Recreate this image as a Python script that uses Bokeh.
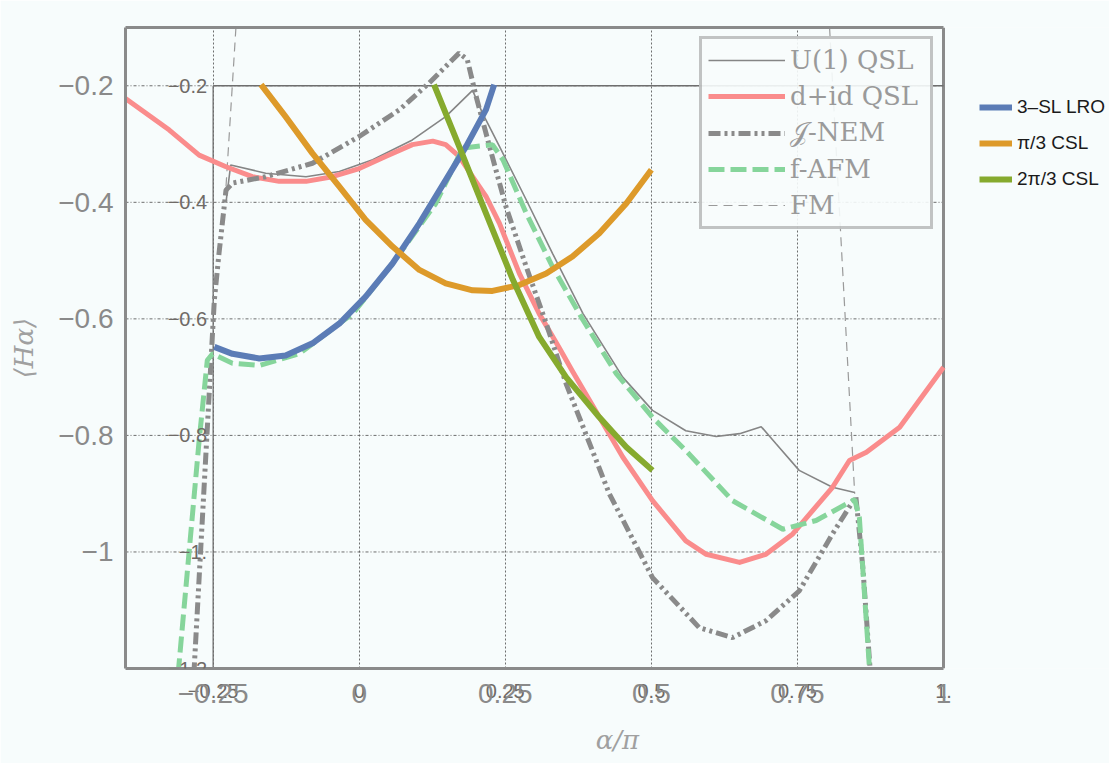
from bokeh.plotting import figure
from bokeh.models import (FixedTicker, Legend, LegendItem, LabelSet, ColumnDataSource, Range1d,
                          LinearAxis)
from bokeh.embed import file_html
from bokeh.resources import INLINE
from bokeh.core.properties import value

nan = float("nan")

# ---------------- data (alpha/pi, <H_alpha>) ----------------
u1_x = [-0.228, -0.220, -0.160, -0.091, -0.034, 0.023, 0.091, 0.148, 0.194, 0.211, 0.240, 0.286,
        0.331, 0.383, 0.451, 0.502, 0.559, 0.611, 0.651, 0.688, 0.713, 0.753, 0.810, 0.848]
u1_y = [-0.400, -0.336, -0.350, -0.356, -0.347, -0.327, -0.293, -0.253, -0.208, -0.247, -0.304, -0.396,
        -0.488, -0.591, -0.700, -0.757, -0.792, -0.802, -0.797, -0.785, -0.814, -0.860, -0.889, -0.898]

did_x = [-0.400, -0.325, -0.274, -0.228, -0.183, -0.137, -0.091, -0.046, 0.000, 0.046, 0.091, 0.126,
         0.148, 0.171, 0.194, 0.217, 0.240, 0.274, 0.308, 0.343, 0.365, 0.451, 0.502, 0.559, 0.594,
         0.651, 0.696, 0.742, 0.810, 0.839, 0.868, 0.925, 1.000]
did_y = [-0.222, -0.276, -0.319, -0.339, -0.356, -0.364, -0.364, -0.356, -0.342, -0.321, -0.301, -0.295,
         -0.301, -0.321, -0.356, -0.390, -0.436, -0.522, -0.591, -0.651, -0.690, -0.837, -0.912, -0.981, -1.004,
         -1.018, -1.004, -0.969, -0.889, -0.843, -0.829, -0.786, -0.683]

nem_x = [-0.283, -0.248, -0.240, -0.228, -0.217, -0.160, -0.080, 0.000, 0.069, 0.120, 0.171, 0.185,
         0.200, 0.223, 0.251, 0.286, 0.320, 0.354, 0.428, 0.502, 0.582, 0.639, 0.696, 0.753, 0.810,
         0.850, 0.862, 0.875]
nem_y = [-1.210, -0.568, -0.488, -0.379, -0.367, -0.356, -0.333, -0.287, -0.241, -0.195, -0.144, -0.155,
         -0.218, -0.304, -0.407, -0.511, -0.608, -0.711, -0.900, -1.044, -1.130, -1.147, -1.118, -1.067,
         -0.969, -0.905, -1.027, -1.210]

afm_x = [-0.310, -0.274, -0.260, -0.251, -0.217, -0.171, -0.103, -0.011, 0.057, 0.131, 0.177, 0.228,
         0.246, 0.286, 0.331, 0.383, 0.440, 0.502, 0.559, 0.639, 0.725, 0.782, 0.848, 0.856, 0.874]
afm_y = [-1.210, -0.809, -0.671, -0.660, -0.676, -0.680, -0.660, -0.591, -0.505, -0.402, -0.307, -0.301,
         -0.327, -0.419, -0.511, -0.602, -0.694, -0.769, -0.826, -0.912, -0.961, -0.946, -0.910, -0.941, -1.210]

fm_x = [-0.211, -0.228, nan, 0.805, 0.848]
fm_y = [-0.100, -0.373, nan, -0.100, -0.900]

lro_x = [-0.248, -0.217, -0.171, -0.126, -0.080, -0.034, 0.011, 0.057, 0.103, 0.148, 0.183, 0.217, 0.231]
lro_y = [-0.648, -0.660, -0.668, -0.663, -0.642, -0.608, -0.562, -0.505, -0.436, -0.362, -0.304, -0.241, -0.198]

csl1_x = [-0.168, -0.126, -0.080, -0.034, 0.011, 0.057, 0.103, 0.148, 0.194, 0.228, 0.274, 0.320,
          0.365, 0.411, 0.457, 0.500]
csl1_y = [-0.198, -0.253, -0.316, -0.373, -0.430, -0.476, -0.516, -0.539, -0.551, -0.552, -0.542, -0.522,
          -0.493, -0.453, -0.402, -0.344]

csl2_x = [0.128, 0.171, 0.217, 0.263, 0.308, 0.354, 0.411, 0.457, 0.502]
csl2_y = [-0.198, -0.304, -0.419, -0.533, -0.631, -0.700, -0.769, -0.820, -0.860]

outer_x_ticks = [-0.25, 0.0, 0.25, 0.5, 0.75, 1.0]
outer_x_labels = ["\u22120.25", "0", "0.25", "0.5", "0.75", "1"]
outer_y_ticks = [-1.0, -0.8, -0.6, -0.4, -0.2]
outer_y_labels = ["\u22121", "\u22120.8", "\u22120.6", "\u22120.4", "\u22120.2"]

inner_x_ticks = [-0.25, 0.0, 0.25, 0.5, 0.75, 1.0]
inner_x_labels = ["\u22120.25", "0", "0.25", "0.5", "0.75", "1."]
inner_y_ticks = [-0.2, -0.4, -0.6, -0.8, -1.0, -1.2]
inner_y_labels = ["\u22120.2", "\u22120.4", "\u22120.6", "\u22120.8", "\u22121.", "\u22121.2"]

inner_names = ["U(1) QSL", "d+id QSL", "\U0001D4A5-NEM", "f-AFM", "FM"]
outer_names = ["3\u2013SL LRO", "\u03c0/3 CSL", "2\u03c0/3 CSL"]

# plot window of the outer axes
x_lo, x_hi = -0.4, outer_x_ticks[-1]
y_lo, y_hi = -1.2, -0.1

# ---------------- figure ----------------
BG = "#f7fcfc"
GRAY = "#8a8a8a"
INNER_TXT = "#6f6a66"
FRAME_W = 818.0     # px width of the outer axes box
EXTRA_W = 166.0     # px of the page to the right of the box (legend area)
x_view_hi = x_hi + (x_hi - x_lo) * EXTRA_W / FRAME_W

p = figure(width=1109, height=763, x_range=Range1d(x_lo, x_view_hi), y_range=Range1d(y_lo, y_hi),
           output_backend="svg", toolbar_location=None,
           min_border_left=125, min_border_right=0, min_border_top=27, min_border_bottom=95,
           background_fill_color=BG, border_fill_color=BG)
p.outline_line_color = None

outer_x = p.xaxis[0]
outer_yax = p.yaxis[0]
for ax in (outer_x, outer_yax):
    ax.major_tick_line_color = None
    ax.minor_tick_line_color = None
    ax.major_label_text_font = "Liberation Sans"
    ax.major_label_text_font_size = "28px"
    ax.major_label_text_color = GRAY
    ax.axis_label_text_font = "DejaVu Serif"
    ax.axis_label_text_font_style = "italic"
    ax.axis_label_text_font_size = "26px"
    ax.axis_label_text_color = "#a0a0a0"

outer_x.axis_line_color = None
outer_x.bounds = (x_lo, x_hi)
outer_yax.axis_line_color = GRAY
outer_yax.axis_line_width = 3
outer_x.ticker = FixedTicker(ticks=outer_x_ticks)
outer_x.major_label_overrides = dict(zip(outer_x_ticks, outer_x_labels))
outer_yax.ticker = FixedTicker(ticks=outer_y_ticks)
outer_yax.major_label_overrides = dict(zip(outer_y_ticks, outer_y_labels))
outer_x.major_label_standoff = -23
outer_yax.major_label_standoff = 6
outer_x.axis_label = "\u03b1/\u03c0"
outer_yax.axis_label = "\u27e8H\u03b1\u27e9"
outer_x.axis_label_standoff = 19
outer_yax.axis_label_standoff = 16

# inner (small) x tick labels: an axis closest to the frame, carrying the bottom frame line
inner_xax = LinearAxis(ticker=FixedTicker(ticks=inner_x_ticks), bounds=(x_lo, x_hi),
                       major_label_overrides=dict(zip(inner_x_ticks, inner_x_labels)),
                       axis_line_color=GRAY, axis_line_width=3,
                       major_tick_line_color=None, minor_tick_line_color=None,
                       major_label_text_font="Liberation Sans", major_label_text_font_size="20px",
                       major_label_text_color=INNER_TXT, major_label_standoff=9)
p.below = [inner_xax] + list(p.below)

# top frame line
top_ax = LinearAxis(ticker=FixedTicker(ticks=[]), bounds=(x_lo, x_hi),
                    axis_line_color=GRAY, axis_line_width=3,
                    major_tick_line_color=None, minor_tick_line_color=None,
                    major_label_text_font_size="0px")
p.add_layout(top_ax, "above")

# grid
p.xgrid.ticker = FixedTicker(ticks=outer_x_ticks[:-1])
p.xgrid.grid_line_color = "#555555"
p.xgrid.grid_line_dash = "2 2"
p.xgrid.grid_line_width = 1
p.xgrid.grid_line_alpha = 0.85
p.ygrid.visible = False
n_y = len(outer_y_ticks)
p.segment(x0=[x_lo] * n_y, x1=[x_hi] * n_y, y0=outer_y_ticks, y1=outer_y_ticks,
          line_color="#555555", line_width=1, line_alpha=0.85, line_dash="3 2 1 2")

# right frame line
p.segment(x0=[x_hi], y0=[y_lo], x1=[x_hi], y1=[y_hi], line_color=GRAY, line_width=3)

# inner frame (left and top)
ix0 = inner_x_ticks[0]
ix1 = inner_x_ticks[-1]
iy_top = max(inner_y_ticks)
iy_bot = min(inner_y_ticks)
p.segment(x0=[ix0, ix0], y0=[iy_bot, iy_top], x1=[ix0, ix1], y1=[iy_top, iy_top],
          line_color="#6e6e6e", line_width=1.3)

# curves
r_fm = p.line(fm_x, fm_y, line_color="#9a9a9a", line_width=1.2, line_dash="9 6")
r_u1 = p.line(u1_x, u1_y, line_color="#858585", line_width=1.6)
r_did = p.line(did_x, did_y, line_color="#fa8c8c", line_width=5, line_join="round")
r_nem = p.line(nem_x, nem_y, line_color="#8a8a8a", line_width=5, line_dash="12 4 3 4 3 4")
r_afm = p.line(afm_x, afm_y, line_color="#86d59b", line_width=5, line_dash="16 6")
r_lro = p.line(lro_x, lro_y, line_color="#5b7cb6", line_width=6, line_join="round")
r_c1 = p.line(csl1_x, csl1_y, line_color="#dd9a2a", line_width=6, line_join="round")
r_c2 = p.line(csl2_x, csl2_y, line_color="#86aa2e", line_width=6, line_join="round")

# inner y tick labels
src_iy = ColumnDataSource(dict(x=[ix0] * len(inner_y_ticks), y=inner_y_ticks, t=inner_y_labels))
p.add_layout(LabelSet(x="x", y="y", text="t", source=src_iy, x_offset=-6,
                      text_align="right", text_baseline="middle",
                      text_font=value("Liberation Sans"), text_font_size="20px", text_color=INNER_TXT))

# legends
inner_leg = Legend(items=[LegendItem(label=n, renderers=[r]) for n, r in
                          zip(inner_names, [r_u1, r_did, r_nem, r_afm, r_fm])],
                   location=(574, 439), orientation="vertical",
                   glyph_width=77, glyph_height=30, label_height=30, label_width=134,
                   label_standoff=5, spacing=6, padding=6, margin=0,
                   label_text_font="DejaVu Serif", label_text_font_size="26px",
                   label_text_color="#9a9a9a", label_text_baseline="middle",
                   border_line_color=GRAY, border_line_width=3,
                   background_fill_color=BG, background_fill_alpha=0.9)
p.add_layout(inner_leg)

outer_leg = Legend(items=[LegendItem(label=n, renderers=[r]) for n, r in
                          zip(outer_names, [r_lro, r_c1, r_c2])],
                   location=(854, 474), orientation="vertical",
                   glyph_width=33, glyph_height=30, label_height=30,
                   label_standoff=5, spacing=6, padding=0, margin=0,
                   label_text_font="Liberation Sans", label_text_font_size="19px",
                   label_text_color="#1a1a1a", label_text_baseline="middle",
                   border_line_color=None, background_fill_alpha=0)
p.add_layout(outer_leg)

open("out.html", "w").write(file_html(p, INLINE))
